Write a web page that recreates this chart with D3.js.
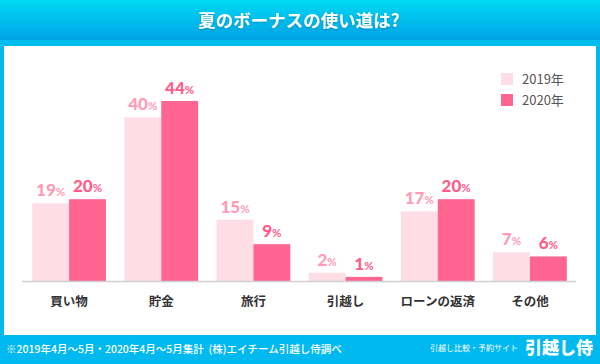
<!DOCTYPE html>
<html><head><meta charset="utf-8">
<script src="https://cdn.jsdelivr.net/npm/d3@7"></script>
<style>html,body{margin:0;padding:0;background:#fff;}svg{display:block;}</style>
</head><body>
<script>
const categories = ["買い物","貯金","旅行","引越し","ローンの返済","その他"];
const series2019 = [19,40,15,2,17,7];
const series2020 = [20,44,9,1,20,6];
const seriesNames = ["2019年","2020年"];
const title = "夏のボーナスの使い道は?";
const footnote = "※2019年4月～5月・2020年4月～5月集計  (株)エイチーム引越し侍調べ";
const brandSmall = "引越し比較・予約サイト";
const brandBig = "引越し侍";

const W=600,H=364;
const JP='"Noto Sans CJK JP","Noto Sans",sans-serif';
const NUM='Lato,"Noto Sans",sans-serif';
const cLight="#ffdde6", cDark="#ff6590", tLight="#ff9bb7", tDark="#ff5c8a";

const svg=d3.select("body").append("svg").attr("width",W).attr("height",H);
const defs=svg.append("defs");
const g=defs.append("linearGradient").attr("id","hg").attr("x1",0).attr("y1",0).attr("x2",0).attr("y2",1);
g.append("stop").attr("offset","0%").attr("stop-color","#00d9f3");
g.append("stop").attr("offset","100%").attr("stop-color","#00a3e6");
const f=defs.append("filter").attr("id","sh").attr("x","-10%").attr("y","-30%").attr("width","120%").attr("height","160%");
f.append("feDropShadow").attr("dx",0).attr("dy",1).attr("stdDeviation",1.2).attr("flood-color","#004a80").attr("flood-opacity",0.45);

svg.append("rect").attr("width",W).attr("height",H).attr("fill","#00b9ee");
svg.append("rect").attr("width",W).attr("height",40).attr("fill","url(#hg)");
svg.append("rect").attr("y",40).attr("width",W).attr("height",6).attr("fill","#00bdf0");
svg.append("rect").attr("x",4).attr("y",46).attr("width",592).attr("height",289).attr("fill","#fff");

svg.append("text").attr("x",299).attr("y",27).attr("text-anchor","middle")
  .attr("font-family",JP).attr("font-weight",700).attr("font-size",17.5).attr("fill","#fff")
  .attr("filter","url(#sh)").text(title);

const x=d3.scaleBand().domain(categories).range([23,576]).paddingInner(0.2).paddingOuter(0.1);
const xs=d3.scaleBand().domain(seriesNames).range([0,x.bandwidth()]);
const y=d3.scaleLinear().domain([0,44]).range([281,101]);

const data=categories.map((c,i)=>({c,vals:[series2019[i],series2020[i]]}));
const grp=svg.append("g").selectAll("g").data(data).join("g").attr("transform",d=>`translate(${x(d.c)},0)`);
grp.selectAll("rect").data(d=>d.vals.map((v,j)=>({v,j}))).join("rect")
  .attr("x",d=>xs(seriesNames[d.j])).attr("width",xs.bandwidth())
  .attr("y",d=>y(d.v)).attr("height",d=>y(0)-y(d.v))
  .attr("fill",d=>d.j?cDark:cLight);
const lab=grp.selectAll("text").data(d=>d.vals.map((v,j)=>({v,j}))).join("text")
  .attr("x",d=>xs(seriesNames[d.j])+xs.bandwidth()/2).attr("y",d=>y(d.v)-7)
  .attr("text-anchor","middle").attr("font-family",NUM).attr("font-weight",900)
  .attr("fill",d=>d.j?tDark:tLight);
lab.append("tspan").attr("font-size",17).text(d=>d.v);
lab.append("tspan").attr("font-size",11.5).attr("font-weight",700).text("%");

// axis
const ax=svg.append("g").attr("transform",`translate(0,${y(0)})`)
  .call(d3.axisBottom(x).tickSize(0).tickPadding(16));
ax.select(".domain").attr("stroke","#d0d0d0").attr("stroke-width",1.5).attr("d","M22,0.5H576");
ax.selectAll("text").attr("font-family",JP).attr("font-weight",700).attr("font-size",12.5).attr("fill","#333");

// legend
const lg=svg.append("g").selectAll("g").data(seriesNames).join("g")
  .attr("transform",(d,i)=>`translate(501,${73+i*21})`);
lg.append("rect").attr("width",12).attr("height",12).attr("fill",(d,i)=>i?cDark:cLight);
lg.append("text").attr("x",21).attr("y",11).attr("font-family",JP).attr("font-size",13).attr("fill","#555").text(d=>d);

// footer
svg.append("text").attr("x",6).attr("y",353).attr("font-family",JP).attr("font-weight",500).attr("font-size",10.5).attr("fill","#fff").style("white-space","pre").text(footnote);
svg.append("text").attr("x",518).attr("y",351).attr("text-anchor","end").attr("font-family",JP).attr("font-size",8).attr("fill","#fff").text(brandSmall);
svg.append("text").attr("x",593).attr("y",354).attr("text-anchor","end").attr("font-family",JP).attr("font-weight",900).attr("font-size",17).attr("fill","#fff").text(brandBig);
</script>
</body></html>
